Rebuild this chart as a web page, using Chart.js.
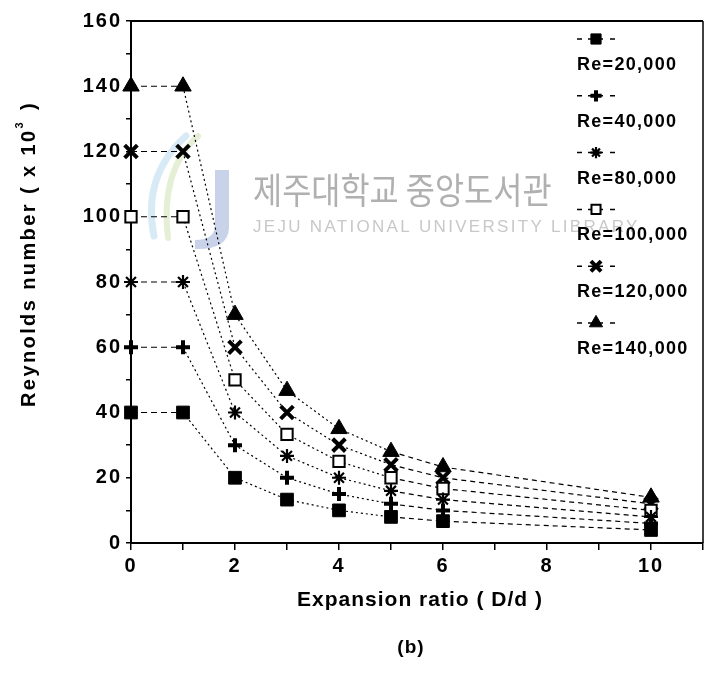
<!DOCTYPE html>
<html><head><meta charset="utf-8">
<script src="https://cdn.jsdelivr.net/npm/chart.js@4.4.0/dist/chart.umd.min.js"></script>
<style>html,body{margin:0;padding:0;background:#fff;}#wrap{width:716px;height:675px;position:relative;}canvas{display:block;}</style>
</head><body><div id="wrap"><canvas id="c" width="716" height="675"></canvas></div>
<script>
const expansionRatio = [0, 1, 2, 3, 4, 5, 6, 10];
const re20  = [40, 40, 20, 13.3, 10, 8, 6.7, 4];
const re40  = [60, 60, 30, 20, 15, 12, 10, 6];
const re80  = [80, 80, 40, 26.7, 20, 16, 13.3, 8];
const re100 = [100, 100, 50, 33.3, 25, 20, 16.7, 10];
const re120 = [120, 120, 60, 40, 30, 24, 20, 12];
const re140 = [140, 140, 70, 46.7, 35, 28, 23.3, 14];
const seriesLabels = ['Re=20,000', 'Re=40,000', 'Re=80,000', 'Re=100,000', 'Re=120,000', 'Re=140,000'];
const xTickLabels = [0, 2, 4, 6, 8, 10];
const yTickLabels = [0, 20, 40, 60, 80, 100, 120, 140, 160];
const xTitle = 'Expansion ratio ( D/d )';
const yTitleMain = 'Reynolds number ( x 10';
const yTitleSup = '3';
const yTitleEnd = ' )';
const panelLabel = '(b)';
const wmKorean = '제주대학교 중앙도서관';
const wmEnglish = 'JEJU NATIONAL UNIVERSITY LIBRARY';

const allSeries = [re20, re40, re80, re100, re120, re140];
const styles = [
  {pointStyle: 'rect', radius: 9, bg: '#000', bw: 1},
  {pointStyle: 'cross', radius: 7, bg: '#000', bw: 4},
  {pointStyle: 'star', radius: 7, bg: '#000', bw: 2.2},
  {pointStyle: 'rect', radius: 8, bg: '#fff', bw: 2},
  {pointStyle: 'crossRot', radius: 9, bg: '#000', bw: 4},
  {pointStyle: 'triangle', radius: 9.5, bg: '#000', bw: 1}
];

const datasets = allSeries.map((vals, i) => ({
  label: seriesLabels[i],
  data: expansionRatio.map((x, j) => ({x: x, y: vals[j]})),
  showLine: true,
  clip: false,
  borderColor: '#000',
  borderWidth: 1.2,
  backgroundColor: styles[i].bg,
  pointBackgroundColor: styles[i].bg,
  pointBorderColor: '#000',
  pointBorderWidth: styles[i].bw,
  pointStyle: styles[i].pointStyle,
  pointRadius: styles[i].radius,
  pointHoverRadius: styles[i].radius,
  tension: 0,
  segment: {
    borderDash: ctx => ctx.p0DataIndex === 0 ? [6, 4] : (ctx.p0DataIndex >= 5 ? [5, 4] : [2, 3])
  }
}));

const FONT = '"Liberation Sans", Arial, sans-serif';

const spacingPlugin = {
  id: 'spacing',
  beforeLayout(chart) { chart.ctx.letterSpacing = '2px'; },
  beforeDraw(chart) { chart.ctx.letterSpacing = '2px'; }
};

const decoPlugin = {
  id: 'deco',
  beforeDatasetsDraw(chart) {
    const ctx = chart.ctx;
    ctx.save();
    // watermark logo (approximate)
    ctx.globalAlpha = 0.55;
    ctx.lineCap = 'round';
    ctx.strokeStyle = '#cfe2b4'; ctx.lineWidth = 6;
    ctx.beginPath(); ctx.moveTo(198, 136); ctx.quadraticCurveTo(160, 170, 168, 238); ctx.stroke();
    ctx.strokeStyle = '#b8d8ee'; ctx.lineWidth = 7;
    ctx.beginPath(); ctx.moveTo(186, 136); ctx.quadraticCurveTo(142, 176, 154, 236); ctx.stroke();
    ctx.globalAlpha = 0.8;
    ctx.fillStyle = '#bac7e4';
    ctx.beginPath();
    ctx.moveTo(215, 170); ctx.lineTo(229, 170); ctx.lineTo(229, 228);
    ctx.quadraticCurveTo(228, 250, 195, 249); ctx.lineTo(195, 240);
    ctx.quadraticCurveTo(215, 240, 215, 225); ctx.closePath(); ctx.fill();
    ctx.globalAlpha = 1;
    // watermark text
    ctx.letterSpacing = '0px';
    ctx.fillStyle = '#b0b0b0';
    ctx.textBaseline = 'middle'; ctx.textAlign = 'left';
    ctx.save();
    ctx.translate(253, 190); ctx.scale(0.88, 1);
    ctx.font = '36px "Noto Sans CJK KR"';
    ctx.fillText(wmKorean, 0, 0);
    ctx.restore();
    ctx.fillStyle = '#c8c8c8';
    ctx.letterSpacing = '2.3px';
    ctx.font = '17px ' + FONT;
    ctx.fillText(wmEnglish, 253, 227);
    ctx.restore();
    // frame top and right
    const a = chart.chartArea;
    ctx.save();
    ctx.strokeStyle = '#000';
    ctx.lineWidth = 2;
    ctx.beginPath(); ctx.moveTo(a.left, a.top); ctx.lineTo(a.right, a.top); ctx.stroke();
    ctx.lineWidth = 1.5;
    ctx.beginPath(); ctx.moveTo(a.right, a.top); ctx.lineTo(a.right, a.bottom); ctx.stroke();
    ctx.restore();
  },
  afterDraw(chart) {
    const ctx = chart.ctx;
    ctx.save();
    ctx.fillStyle = '#000'; ctx.strokeStyle = '#000';
    // legend
    const metas = chart.data.datasets;
    for (let i = 0; i < metas.length; i++) {
      const ds = metas[i];
      const sy = 39 + i * 56.8;
      const ly = 65 + i * 56.8;
      ctx.save();
      ctx.lineWidth = 1.5;
      ctx.setLineDash([]);
      ctx.beginPath();
      ctx.moveTo(577, sy); ctx.lineTo(582, sy);
      ctx.moveTo(588, sy); ctx.lineTo(603, sy);
      ctx.moveTo(610, sy); ctx.lineTo(615, sy);
      ctx.stroke();
      ctx.fillStyle = ds.pointBackgroundColor;
      ctx.strokeStyle = '#000';
      ctx.lineWidth = ds.pointBorderWidth;
      Chart.helpers.drawPoint(ctx, {pointStyle: ds.pointStyle, rotation: 0, radius: ds.pointRadius * 0.8, borderWidth: ds.pointBorderWidth}, 596, sy);
      ctx.restore();
      ctx.fillStyle = '#000';
      ctx.letterSpacing = '1.3px';
      ctx.font = 'bold 18px ' + FONT;
      ctx.textAlign = 'left'; ctx.textBaseline = 'middle';
      ctx.fillText(ds.label, 577, ly);
    }
    // x title
    ctx.letterSpacing = '1px';
    ctx.font = 'bold 21px ' + FONT;
    ctx.textAlign = 'center'; ctx.textBaseline = 'middle';
    ctx.fillText(xTitle, 420, 600);
    // panel label
    ctx.letterSpacing = '1px';
    ctx.font = 'bold 19px ' + FONT;
    ctx.fillText(panelLabel, 411, 648);
    // y title with superscript
    ctx.save();
    ctx.translate(29, 255);
    ctx.rotate(-Math.PI / 2);
    ctx.textAlign = 'left'; ctx.textBaseline = 'middle';
    ctx.letterSpacing = '2.4px';
    const mainFont = 'bold 20px ' + FONT;
    const supFont = 'bold 11px ' + FONT;
    ctx.font = mainFont; const w1 = ctx.measureText(yTitleMain).width;
    ctx.font = supFont; const w2 = ctx.measureText(yTitleSup).width;
    ctx.font = mainFont; const w3 = ctx.measureText(yTitleEnd).width;
    let x0 = -(w1 + w2 + w3) / 2;
    ctx.font = mainFont; ctx.fillText(yTitleMain, x0, 0);
    ctx.font = supFont; ctx.fillText(yTitleSup, x0 + w1, -9);
    ctx.font = mainFont; ctx.fillText(yTitleEnd, x0 + w1 + w2 + 2, 0);
    ctx.restore();
    ctx.restore();
  }
};

new Chart(document.getElementById('c'), {
  type: 'scatter',
  data: {datasets: datasets},
  options: {
    responsive: false,
    animation: false,
    devicePixelRatio: 1,
    layout: {padding: {top: 21, right: 7, bottom: 92, left: 0}},
    plugins: {legend: {display: false}, tooltip: {enabled: false}, title: {display: false}},
    scales: {
      x: {
        type: 'linear', position: 'bottom', min: 0, max: 11,
        ticks: {
          stepSize: 1, autoSkip: false, maxRotation: 0, color: '#000', padding: 4,
          font: {family: FONT, size: 20, weight: 'bold'},
          callback: v => xTickLabels.includes(v) ? String(v) : ''
        },
        grid: {drawOnChartArea: false, drawTicks: true, tickLength: 7, color: '#000', lineWidth: 1.5},
        border: {display: true, color: '#000', width: 2},
        afterFit: s => { s.height = 40; }
      },
      y: {
        type: 'linear', min: 0, max: 160,
        ticks: {
          stepSize: 10, autoSkip: false, color: '#000', padding: 4,
          font: {family: FONT, size: 20, weight: 'bold'},
          callback: v => yTickLabels.includes(v) ? String(v) : ''
        },
        grid: {drawOnChartArea: false, drawTicks: true, tickLength: 5, color: '#000', lineWidth: 1.5},
        border: {display: true, color: '#000', width: 2},
        afterFit: s => { s.width = 131; }
      }
    }
  },
  plugins: [spacingPlugin, decoPlugin]
});
</script>
</body></html>
